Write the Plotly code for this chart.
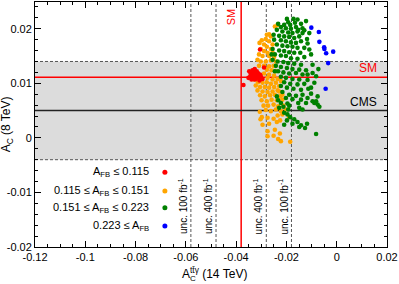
import plotly.graph_objects as go

# ---------------- data ----------------
red_x = [-0.0348, -0.0342, -0.0335, -0.0329, -0.0322, -0.0331, -0.0344, -0.0339, -0.0325, -0.0315,
         -0.0309, -0.0302, -0.0318, -0.0313, -0.0331, -0.0295, -0.0342, -0.0326, -0.0307, -0.0351,
         -0.0371, -0.0305, -0.0289, -0.0335, -0.0322, -0.0315, -0.0329, -0.0305]
red_y = [0.0122, 0.0118, 0.0124, 0.0120, 0.0116, 0.0112, 0.0112, 0.0107, 0.0107, 0.0112,
         0.0109, 0.0113, 0.0122, 0.0118, 0.0116, 0.0108, 0.0114, 0.0126, 0.0105, 0.0110,
         0.0097, 0.0162, 0.0129, 0.0114, 0.0112, 0.0119, 0.0108, 0.0116]

orange_x = [-0.0235, -0.0246, -0.0269, -0.0278, -0.0262, -0.0298, -0.0282, -0.0307, -0.0269, -0.0289,
            -0.0255, -0.0278, -0.0302, -0.0262, -0.0289, -0.0275, -0.0255, -0.0309, -0.0295, -0.0269,
            -0.0249, -0.0315, -0.0302, -0.0282, -0.0262, -0.0242, -0.0309, -0.0289, -0.0269, -0.0251,
            -0.0278, -0.0259, -0.0242, -0.0289, -0.0269, -0.0249, -0.0275, -0.0255, -0.0235, -0.0313,
            -0.0295, -0.0278, -0.0262, -0.0242, -0.0322, -0.0305, -0.0286, -0.0269, -0.0249, -0.0229,
            -0.0315, -0.0295, -0.0275, -0.0255, -0.0235, -0.0305, -0.0286, -0.0265, -0.0246, -0.0225,
            -0.0299, -0.0278, -0.0259, -0.0238, -0.0216, -0.0291, -0.0273, -0.0251, -0.0233, -0.0212,
            -0.0282, -0.0262, -0.0242, -0.0222, -0.0202, -0.0306, -0.0298, -0.0275, -0.0251, -0.0235,
            -0.0216, -0.0303, -0.0238, -0.0225, -0.0189, -0.0269, -0.0295, -0.0246, -0.0275, -0.0251,
            -0.0226, -0.0233, -0.0185, -0.0275, -0.0222, -0.0315, -0.0229, -0.0216, -0.0329, -0.0222]
orange_y = [0.0207, 0.0204, 0.0190, 0.0189, 0.0186, 0.0179, 0.0181, 0.0174, 0.0177, 0.0171,
            0.0171, 0.0167, 0.0163, 0.0163, 0.0159, 0.0156, 0.0156, 0.0153, 0.0150, 0.0150,
            0.0148, 0.0143, 0.0140, 0.0140, 0.0142, 0.0140, 0.0132, 0.0132, 0.0131, 0.0132,
            0.0125, 0.0124, 0.0122, 0.0118, 0.0116, 0.0114, 0.0110, 0.0107, 0.0108, 0.0102,
            0.0101, 0.0102, 0.0099, 0.0101, 0.0096, 0.0093, 0.0093, 0.0092, 0.0093, 0.0095,
            0.0087, 0.0085, 0.0084, 0.0085, 0.0087, 0.0078, 0.0076, 0.0078, 0.0079, 0.0076,
            0.0069, 0.0067, 0.0070, 0.0069, 0.0070, 0.0059, 0.0059, 0.0061, 0.0058, 0.0059,
            0.0051, 0.0049, 0.0052, 0.0049, 0.0052, 0.0048, 0.0038, 0.0037, 0.0035, 0.0041,
            0.0043, 0.0034, 0.0029, 0.0032, 0.0038, 0.0026, 0.0024, 0.0015, 0.0012, 0.0004,
            0.0008, -0.0002, -0.0007, 0.0003, -0.0006, 0.0108, 0.0085, 0.0079, 0.0107, 0.0104]

green_x = [-0.0172, -0.0193, -0.0209, -0.0185, -0.0166, -0.0142, -0.0122, -0.0222, -0.0202, -0.0182,
           -0.0162, -0.0136, -0.0109, -0.0238, -0.0216, -0.0193, -0.0176, -0.0156, -0.0136, -0.0229,
           -0.0209, -0.0189, -0.0169, -0.0149, -0.0118, -0.0249, -0.0222, -0.0202, -0.0182, -0.0162,
           -0.0142, -0.0116, -0.0238, -0.0216, -0.0196, -0.0176, -0.0156, -0.0129, -0.0255, -0.0229,
           -0.0209, -0.0189, -0.0169, -0.0145, -0.0102, -0.0246, -0.0222, -0.0202, -0.0182, -0.0156,
           -0.0129, -0.0255, -0.0235, -0.0212, -0.0193, -0.0169, -0.0142, -0.0096, -0.0242, -0.0222,
           -0.0198, -0.0176, -0.0149, -0.0122, -0.0073, -0.0233, -0.0212, -0.0189, -0.0162, -0.0136,
           -0.0082, -0.0222, -0.0202, -0.0176, -0.0149, -0.0116, -0.0209, -0.0185, -0.0156, -0.0129,
           -0.0089, -0.0113, -0.0222, -0.0198, -0.0172, -0.0142, -0.0102, -0.0216, -0.0189, -0.0162,
           -0.0076, -0.0238, -0.0202, -0.0176, -0.0142, -0.0116, -0.0222, -0.0196, -0.0153, -0.0082,
           -0.0076, -0.0069, -0.0089, -0.0229, -0.0212, -0.0189, -0.0149, -0.0136, -0.0209, -0.0196,
           -0.0185, -0.0198, -0.0209, -0.0169, -0.0156, -0.0142, -0.0126, -0.0149, -0.0118, -0.0082,
           -0.0176, -0.0193, -0.0233, -0.0246, -0.0259, -0.0251, -0.0233, -0.0198, -0.0156, -0.0153,
           -0.0129, -0.0109, -0.0096, -0.0116, -0.0102, -0.0136, -0.0122, -0.0096]
green_y = [0.0218, 0.0212, 0.0207, 0.0207, 0.0211, 0.0209, 0.0214, 0.0203, 0.0201, 0.0200,
           0.0203, 0.0201, 0.0192, 0.0198, 0.0195, 0.0193, 0.0192, 0.0195, 0.0192, 0.0187,
           0.0186, 0.0185, 0.0183, 0.0186, 0.0181, 0.0180, 0.0179, 0.0177, 0.0175, 0.0174,
           0.0177, 0.0173, 0.0171, 0.0169, 0.0168, 0.0167, 0.0165, 0.0165, 0.0163, 0.0160,
           0.0159, 0.0157, 0.0156, 0.0156, 0.0153, 0.0153, 0.0151, 0.0150, 0.0146, 0.0145,
           0.0148, 0.0143, 0.0140, 0.0139, 0.0137, 0.0136, 0.0134, 0.0134, 0.0132, 0.0130,
           0.0128, 0.0126, 0.0125, 0.0124, 0.0126, 0.0122, 0.0120, 0.0118, 0.0119, 0.0116,
           0.0113, 0.0112, 0.0110, 0.0108, 0.0107, 0.0106, 0.0102, 0.0099, 0.0098, 0.0099,
           0.0101, 0.0090, 0.0095, 0.0092, 0.0090, 0.0088, 0.0081, 0.0084, 0.0079, 0.0077,
           0.0076, 0.0076, 0.0073, 0.0071, 0.0070, 0.0073, 0.0064, 0.0063, 0.0064, 0.0067,
           0.0061, 0.0057, 0.0064, 0.0055, 0.0057, 0.0059, 0.0055, 0.0052, 0.0046, 0.0043,
           0.0038, 0.0032, 0.0024, 0.0034, 0.0029, 0.0023, 0.0018, 0.0020, 0.0026, 0.0007,
           0.0026, 0.0052, 0.0069, 0.0122, 0.0153, 0.0189, 0.0209, 0.0218, 0.0217, 0.0198,
           0.0197, 0.0162, 0.0119, 0.0116, 0.0092, 0.0079, 0.0064, 0.0067]

blue_x = [-0.0101, -0.0071, -0.0069, -0.0050, -0.0049, -0.0042, -0.0014, -0.0034, -0.0044]
blue_y = [0.0202, 0.0194, 0.0176, 0.0166, 0.0163, 0.0155, 0.0158, 0.0137, 0.0090]

SM_8TEV = 0.0111          # A_C (8 TeV) standard model
CMS_8TEV = 0.005          # CMS measurement
CMS_BAND = (-0.004, 0.014)
SM_14TEV = -0.038         # A_C^{tt gamma} (14 TeV) standard model
UNC_400 = 0.010
UNC_100 = 0.020

x_ticks = [-0.12, -0.10, -0.08, -0.06, -0.04, -0.02, 0.0, 0.02]
x_ticktext = ["-0.12", "-0.1", "-0.08", "-0.06", "-0.04", "-0.02", "0", "0.02"]
y_ticks = [-0.02, -0.01, 0.0, 0.01, 0.02]
y_ticktext = ["-0.02", "-0.01", "0", "0.01", "0.02"]

legend_labels = ["A<sub>FB</sub> ≤ 0.115",
                 "0.115 ≤ A<sub>FB</sub> ≤ 0.151",
                 "0.151 ≤ A<sub>FB</sub> ≤ 0.223",
                 "0.223 ≤ A<sub>FB</sub>"]
colors = ["#ff0000", "#ffa500", "#008000", "#0000ff"]

# ---------------- figure ----------------
FONT = "Liberation Sans, Arial, Helvetica, sans-serif"
fig = go.Figure()
for xs, ys, c in [(orange_x, orange_y, colors[1]), (green_x, green_y, colors[2]),
                  (red_x, red_y, colors[0]), (blue_x, blue_y, colors[3])]:
    fig.add_trace(go.Scatter(x=xs, y=ys, mode="markers",
                             marker=dict(size=4.6, color=c, line=dict(width=0)),
                             showlegend=False, hoverinfo="skip"))

shapes = []
# CMS band
shapes.append(dict(type="rect", xref="paper", x0=0, x1=1, yref="y", y0=CMS_BAND[0], y1=CMS_BAND[1],
                   fillcolor="#dcdcdc", line=dict(width=0), layer="below"))
for yv in CMS_BAND:
    shapes.append(dict(type="line", xref="paper", x0=0, x1=1, yref="y", y0=yv, y1=yv,
                       line=dict(color="#555555", width=1, dash="3px,2px"), layer="below"))
# uncertainty lines
for xv in [SM_14TEV - UNC_100, SM_14TEV - UNC_400, SM_14TEV + UNC_400, SM_14TEV + UNC_100]:
    shapes.append(dict(type="line", xref="x", x0=xv, x1=xv, yref="paper", y0=0, y1=1,
                       line=dict(color="#555555", width=1, dash="3px,2px"), layer="below"))
# SM / CMS lines
shapes.append(dict(type="line", xref="x", x0=SM_14TEV, x1=SM_14TEV, yref="paper", y0=0, y1=1,
                   line=dict(color="#ff0000", width=1.5), layer="below"))
shapes.append(dict(type="line", xref="paper", x0=0, x1=1, yref="y", y0=SM_8TEV, y1=SM_8TEV,
                   line=dict(color="#ff0000", width=1.5), layer="below"))
shapes.append(dict(type="line", xref="paper", x0=0, x1=1, yref="y", y0=CMS_8TEV, y1=CMS_8TEV,
                   line=dict(color="#222222", width=1.5), layer="below"))

# legend dots (paper coords)
leg_y = [0.305, 0.2286, 0.160, 0.0857]
for yv, c in zip(leg_y, colors):
    shapes.append(dict(type="circle", xref="paper", yref="paper", xsizemode="pixel", ysizemode="pixel",
                       xanchor=0.369, yanchor=yv, x0=-2.5, x1=2.5, y0=-2.5, y1=2.5,
                       fillcolor=c, line=dict(width=0)))

ann = []
for yv, t in zip(leg_y, legend_labels):
    ann.append(dict(xref="paper", yref="paper", x=0.3295, y=yv, xanchor="right", yanchor="middle",
                    text=t, showarrow=False, font=dict(size=11, color="black", family=FONT)))

unc_texts = ["unc. 100 fb<sup>-1</sup>", "unc. 400 fb<sup>-1</sup>",
             "unc. 400 fb<sup>-1</sup>", "unc. 100 fb<sup>-1</sup>"]
for xv, t in zip([SM_14TEV - UNC_100, SM_14TEV - UNC_400, SM_14TEV + UNC_400, SM_14TEV + UNC_100], unc_texts):
    ann.append(dict(xref="x", yref="y", x=xv, y=-0.018, xanchor="right", yanchor="bottom",
                    text=t, textangle=-90, showarrow=False, xshift=0,
                    font=dict(size=10, color="black", family=FONT)))

ann.append(dict(xref="x", yref="y", x=SM_14TEV, y=0.0202, xanchor="right", yanchor="bottom",
                text="SM", textangle=-90, showarrow=False, xshift=-2,
                font=dict(size=11, color="#ff0000", family=FONT)))
ann.append(dict(xref="x", yref="y", x=0.017, y=SM_8TEV, xanchor="right", yanchor="bottom",
                text="SM", showarrow=False, yshift=0,
                font=dict(size=12, color="#ff0000", family=FONT)))
ann.append(dict(xref="x", yref="y", x=0.017, y=CMS_8TEV, xanchor="right", yanchor="bottom",
                text="CMS", showarrow=False, yshift=0,
                font=dict(size=12, color="black", family=FONT)))

# axis titles
ann.append(dict(xref="paper", yref="paper", x=-0.08, y=0.5, xanchor="center", yanchor="middle",
                text="A<sub>C</sub> (8 TeV)", textangle=-90, showarrow=False,
                font=dict(size=12, color="black", family=FONT)))
ann.append(dict(xref="paper", yref="paper", x=(180 - 35) / 352, y=-0.105, xanchor="left", yanchor="middle",
                text="A<sup>tt\u0304γ</sup> (14 TeV)", showarrow=False,
                font=dict(size=12, color="black", family=FONT)))
ann.append(dict(xref="paper", yref="paper", x=(187.5 - 35) / 352, y=-0.13, xanchor="left", yanchor="middle",
                text="C", showarrow=False,
                font=dict(size=8, color="black", family=FONT)))

fig.update_layout(
    width=399, height=284,
    margin=dict(l=35, r=12, t=2, b=37, autoexpand=False),
    paper_bgcolor="white", plot_bgcolor="white",
    font=dict(family=FONT, size=11, color="black"),
    shapes=shapes, annotations=ann,
    showlegend=False,
)
fig.update_xaxes(range=[-0.12, 0.02], tickmode="array", tickvals=x_ticks, ticktext=x_ticktext,
                 ticks="inside", ticklen=6, tickcolor="black", tickwidth=1,
                 minor=dict(ticks="inside", ticklen=3, dtick=0.005, tick0=-0.12, tickcolor="black"),
                 showline=True, linecolor="black", linewidth=1, mirror="allticks", automargin=False,
                 showgrid=False, zeroline=False, tickfont=dict(size=11))
fig.update_yaxes(range=[-0.02, 0.0249], tickmode="array", tickvals=y_ticks, ticktext=y_ticktext,
                 ticks="inside", ticklen=6, tickcolor="black", tickwidth=1,
                 minor=dict(ticks="inside", ticklen=3, dtick=0.002, tick0=-0.02, tickcolor="black"),
                 showline=True, linecolor="black", linewidth=1, mirror="allticks", automargin=False,
                 showgrid=False, zeroline=False, tickfont=dict(size=11))

fig.write_html("out.html", config={"displayModeBar": False},
               post_script="document.body.style.margin='0';")
